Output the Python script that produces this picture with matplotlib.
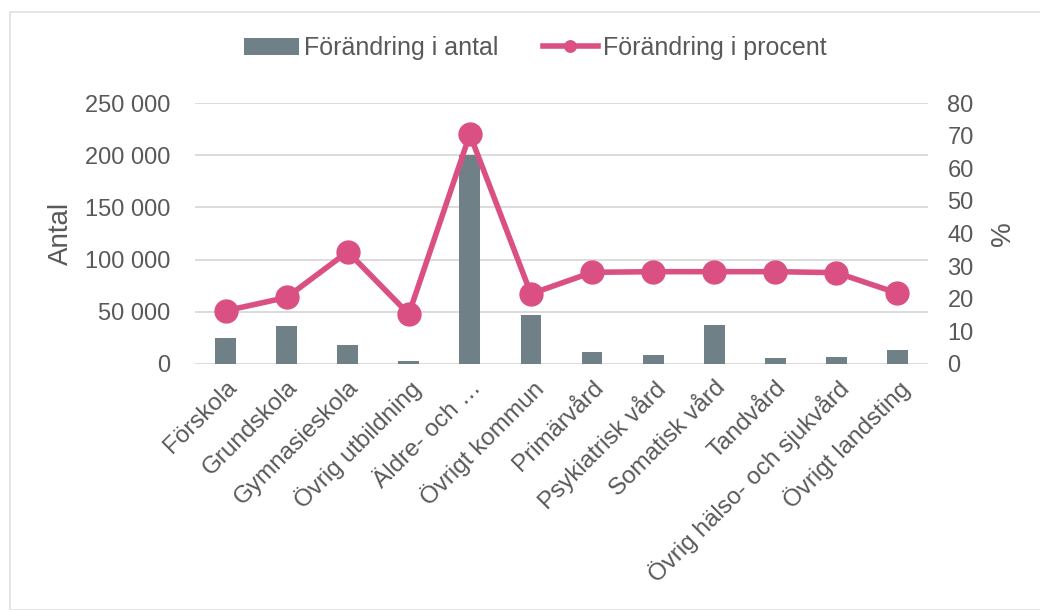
import matplotlib
matplotlib.use("Agg")
import matplotlib.pyplot as plt
from matplotlib.patches import Rectangle
from matplotlib.ticker import FuncFormatter

categories = ["Förskola", "Grundskola", "Gymnasieskola", "Övrig utbildning",
              "Äldre- och …", "Övrigt kommun", "Primärvård", "Psykiatrisk vård",
              "Somatisk vård", "Tandvård", "Övrig hälso- och sjukvård", "Övrigt landsting"]
antal = [24700, 36800, 18300, 3200, 200000, 46500, 11800, 8700, 37500, 5400, 6700, 13800]
procent = [16.3, 20.4, 34.4, 15.3, 70.4, 21.5, 28.1, 28.3, 28.3, 28.3, 28.0, 21.7]

plt.rcParams['font.family'] = ['Liberation Sans', 'DejaVu Sans']
txt = "#595959"
bar_c = "#6F8186"
line_c = "#DB5083"

fig = plt.figure(figsize=(10.4, 6.1), dpi=100)
fig.patches.append(Rectangle((10/1040, 0), 1.0, 1 - 12/610, transform=fig.transFigure,
                             fill=False, edgecolor="#E0E0E0", linewidth=1.2))
ax = fig.add_axes([195/1040, 1 - 364/610, (928 - 195)/1040, (364 - 103)/610])
x = list(range(len(categories)))
ax.bar(x, antal, width=0.34, color=bar_c, zorder=2, label="Förändring i antal")
ax.set_ylim(0, 250000)
ax.set_yticks([0, 50000, 100000, 150000, 200000, 250000])
ax.yaxis.set_major_formatter(FuncFormatter(lambda v, p: f"{int(v):,}".replace(",", " ")))
ax.set_xlim(-0.5, len(categories) - 0.5)
ax.grid(axis="y", color="#D9D9D9", linewidth=1.3, zorder=0)
for s in ax.spines.values():
    s.set_visible(False)
ax.tick_params(axis="both", length=0, colors=txt, labelsize=17)
ax.set_xticks(x)
ax.set_xticklabels(categories, rotation=45, ha="right", rotation_mode="anchor", fontsize=17.5)
ax.tick_params(axis="x", pad=9)
ax.tick_params(axis="y", pad=18)
ax.set_ylabel("Antal", fontsize=20, color=txt, labelpad=8)

ax2 = ax.twinx()
ax2.plot(x, procent, color=line_c, linewidth=4, marker="o", markersize=16.5,
         zorder=3, label="Förändring i procent")
ax2.set_ylim(0, 80)
ax2.set_yticks(range(0, 81, 10))
for s in ax2.spines.values():
    s.set_visible(False)
ax2.tick_params(axis="y", length=0, colors=txt, labelsize=17, pad=14)
ax2.set_ylabel("%", fontsize=20, color=txt, labelpad=12)

h1, l1 = ax.get_legend_handles_labels()
h2, l2 = ax2.get_legend_handles_labels()
leg = fig.legend(h1 + h2, l1 + l2, loc="center", bbox_to_anchor=(535/1040, 1 - 48/610), ncol=2,
                 frameon=False, fontsize=18, handlelength=2.2, handletextpad=0.2,
                 columnspacing=1.8, markerscale=0.5)
for t in leg.get_texts():
    t.set_color(txt)

fig.savefig("out.png", dpi=100)
